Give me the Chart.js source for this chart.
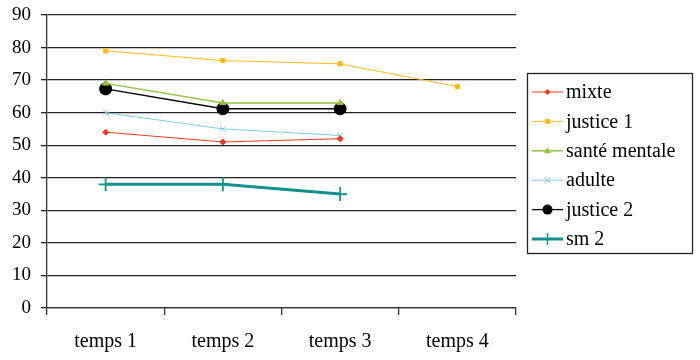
<!DOCTYPE html>
<html><head><meta charset="utf-8">
<script src="https://cdn.jsdelivr.net/npm/chart.js@4/dist/chart.umd.min.js"></script>
<style>html,body{margin:0;padding:0;background:#fff}#wrap{width:700px;height:360px}
.warm{font-family:'Liberation Serif';position:absolute;left:-1000px}</style>
</head><body><div class="warm">temps é 0123</div><div id="wrap"><canvas id="c" width="700" height="360"></canvas></div>
<script>
const categories = ["temps 1", "temps 2", "temps 3", "temps 4"];
const mixte = [54, 51, 52, null];
const justice1 = [79, 76, 75, 68];
const santeMentale = [69, 63, 63, null];
const adulte = [60, 55, 53, null];
const justice2 = [67.3, 61.2, 61.2, null];
const sm2 = [38, 38, 35, null];
const yTicks = [0, 10, 20, 30, 40, 50, 60, 70, 80, 90];

const FONT = "'Liberation Serif', serif";

function mk(label, data, color, style, radius, lw) {
  return {label, data, borderColor: color, backgroundColor: color, pointStyle: style,
    pointRadius: radius, pointHoverRadius: radius, borderWidth: lw,
    pointBorderWidth: (style==='crossRot'||style==='cross') ? Math.max(1,lw*0.6) : 1,
    tension: 0, spanGaps: false};
}
const datasets = [
  mk("mixte", mixte, "#EE3B1F", "rectRot", 3, 1),
  mk("justice 1", justice1, "#FFBA1A", "rect", 3, 1),
  mk("santé mentale", santeMentale, "#92C43A", "triangle", 3.5, 1.5),
  mk("adulte", adulte, "#76CCE0", "crossRot", 4, 1),
  mk("justice 2", justice2, "#000000", "circle", 6, 1.3),
  mk("sm 2", sm2, "#13918F", "cross", 7, 3)
];

function drawIcon(g, ds, x0, cy) {
  g.save();
  g.strokeStyle = ds.borderColor; g.fillStyle = ds.borderColor;
  g.lineWidth = ds.borderWidth;
  g.beginPath(); g.moveTo(x0, cy); g.lineTo(x0 + 31, cy); g.stroke();
  const cx = x0 + 15.5;
  g.beginPath();
  switch (ds.pointStyle) {
    case 'rectRot': g.moveTo(cx, cy-3); g.lineTo(cx+3, cy); g.lineTo(cx, cy+3); g.lineTo(cx-3, cy); g.closePath(); g.fill(); break;
    case 'rect': g.fillRect(cx-2.5, cy-2.5, 5, 5); break;
    case 'triangle': g.moveTo(cx, cy-3.5); g.lineTo(cx+3.5, cy+2.5); g.lineTo(cx-3.5, cy+2.5); g.closePath(); g.fill(); break;
    case 'crossRot': g.lineWidth=1; g.moveTo(cx-3, cy-3); g.lineTo(cx+3, cy+3); g.moveTo(cx+3, cy-3); g.lineTo(cx-3, cy+3); g.stroke(); break;
    case 'circle': g.arc(cx, cy, 5, 0, Math.PI*2); g.fill(); break;
    case 'cross': g.lineWidth=1.5; g.moveTo(cx, cy-6); g.lineTo(cx, cy+6); g.stroke(); break;
  }
  g.restore();
}

const legendPlugin = {
  id: 'boxLegend',
  afterDraw(chart) {
    const ctx = chart.ctx;
    ctx.save();
    ctx.strokeStyle = '#222'; ctx.lineWidth = 1.3;
    ctx.strokeRect(527.5, 73.5, 165, 180);
    ctx.font = "20px " + FONT;
    ctx.fillStyle = '#000';
    ctx.textBaseline = 'middle';
    chart.data.datasets.forEach((ds, i) => {
      const cy = 92 + i * 29.4;
      drawIcon(ctx, ds, 532, cy);
      ctx.fillText(ds.label, 566, cy + 1);
    });
    ctx.restore();
  }
};

function draw() {
new Chart(document.getElementById('c'), {
  type: 'line',
  data: { labels: categories, datasets },
  plugins: [legendPlugin],
  options: {
    responsive: false, animation: false, devicePixelRatio: 1,
    layout: { padding: { top: 15, right: 184, left: 0, bottom: 0 } },
    plugins: { tooltip: { enabled: false }, legend: { display: false } },
    scales: {
      x: {
        offset: true,
        afterFit(axis) { axis.height = 52; axis.paddingLeft = 0; axis.paddingRight = 0; },
        grid: { offset: true, drawOnChartArea: false, drawTicks: true, tickLength: 7, color: '#333', lineWidth: 1.3 },
        border: { color: '#333', width: 1.3 },
        ticks: { font: { family: FONT, size: 20 }, color: '#000', padding: 15 }
      },
      y: {
        min: 0, max: 90,
        afterBuildTicks(axis) { axis.ticks = yTicks.map(v => ({ value: v })); },
        afterFit(axis) { axis.width = 47; axis.paddingTop = 0; axis.paddingBottom = 0; },
        grid: { color: '#222', lineWidth: 1.3, tickLength: 6 },
        border: { color: '#333', width: 1.3 },
        ticks: { font: { family: FONT, size: 19 }, color: '#000', padding: 10 }
      }
    }
  }
});
}
if (document.fonts && document.fonts.load) {
  Promise.all([document.fonts.load("20px 'Liberation Serif'"), document.fonts.load("19px 'Liberation Serif'")]).then(draw, draw);
} else draw();
</script></body></html>
